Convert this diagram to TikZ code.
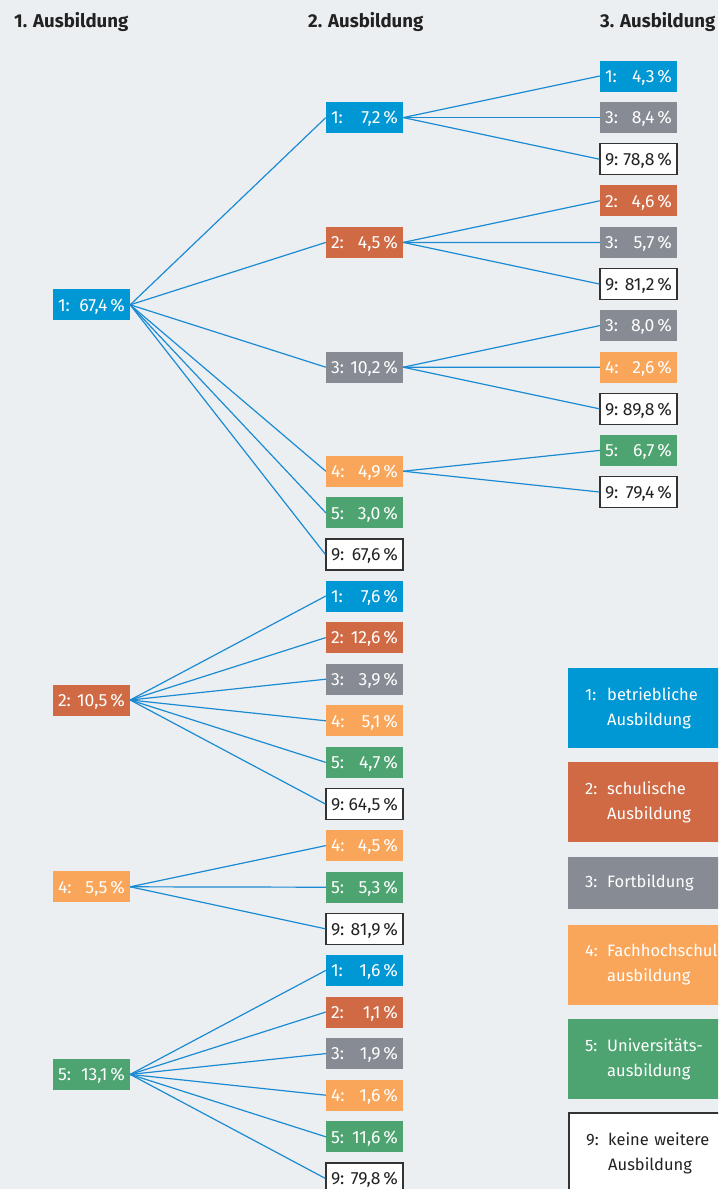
\documentclass[tikz,border=0pt]{standalone}
\usepackage{fontspec}
\setmainfont{Fira Sans}
\usepackage{tikz}
\usetikzlibrary{positioning}
\definecolor{bgc}{HTML}{ECEFF2}
\definecolor{col1}{HTML}{0098D4}
\definecolor{col2}{HTML}{D06A45}
\definecolor{col3}{HTML}{878B94}
\definecolor{col4}{HTML}{F9A65A}
\definecolor{col5}{HTML}{4EA471}
\definecolor{frame}{HTML}{333333}
\definecolor{darktext}{HTML}{222222}
\definecolor{linec}{HTML}{1A8BD3}
\newcommand{\pct}[2]{\makebox[67pt]{#1\hfill#2\,\%}}
\newcommand{\legtwo}[3]{\makebox[22pt][l]{#1}#2\\\hspace*{22pt}#3}
\tikzset{%
	cell/.style  = {rectangle, minimum width=77pt, minimum height=31pt, inner sep=0pt, text height=12.4pt, text depth=0pt, font=\fontsize{17.6}{22}\selectfont, text=white},
	c1/.style    = {cell, fill=col1},
	c2/.style    = {cell, fill=col2},
	c3/.style    = {cell, fill=col3},
	c4/.style    = {cell, fill=col4},
	c5/.style    = {cell, fill=col5},
	c9/.style    = {cell, fill=white, draw=frame, line width=1.3pt, text=darktext}, % keine weitere
	link/.style  = {draw=linec, line width=1.2pt},
	head/.style  = {font=\fontsize{18.6}{22}\selectfont\bfseries, text=darktext, anchor=base west, inner sep=0pt},
	leg/.style   = {rectangle, anchor=west, minimum height=80pt, text width=170pt, inner xsep=17pt, align=left, font=\fontsize{16.5}{25}\selectfont, text=white}, % Legende
}
\begin{document}
\begin{tikzpicture}[x=1pt,y=-1pt,node distance=41.6pt]
	\useasboundingbox (0,0) rectangle (718,1189);
	\clip (0,0) rectangle (718,1189);
	\fill[bgc] (0,0) rectangle (718,1189);
	
	\node [head] (h1) at (14,27) {1. Ausbildung};
	\node [head] (h2) at (308,27) {2. Ausbildung};
	\node [head] (h3) at (600,27) {3. Ausbildung};
	
	% 1. Ausbildung
	\node [c1] (l1) at (91.5,304.8) {\pct{1:}{67,4}};
	\node [c2] (l2) at (91.5,700) {\pct{2:}{10,5}};
	\node [c4] (l4) at (91.5,886.8) {\pct{4:}{5,5}};
	\node [c5] (l5) at (91.5,1074.4) {\pct{5:}{13,1}};
	
	% 2. Ausbildung
	\node [c1] (m11) at (364.5,117.6) {\pct{1:}{7,2}};
	\node [c2] (m12) [below of=m11,node distance=124.8pt] {\pct{2:}{4,5}};
	\node [c3] (m13) [below of=m12,node distance=124.8pt] {\pct{3:}{10,2}};
	\node [c4] (m14) [below of=m13,node distance=104pt] {\pct{4:}{4,9}};
	\node [c5] (m15) [below of=m14] {\pct{5:}{3,0}};
	\node [c9] (m19) [below of=m15] {\pct{9:}{67,6}};
	\node [c1] (m21) [below of=m19] {\pct{1:}{7,6}};
	\node [c2] (m22) [below of=m21] {\pct{2:}{12,6}};
	\node [c3] (m23) [below of=m22] {\pct{3:}{3,9}};
	\node [c4] (m24) [below of=m23] {\pct{4:}{5,1}};
	\node [c5] (m25) [below of=m24] {\pct{5:}{4,7}};
	\node [c9] (m29) [below of=m25] {\pct{9:}{64,5}};
	\node [c4] (m44) [below of=m29] {\pct{4:}{4,5}};
	\node [c5] (m45) [below of=m44] {\pct{5:}{5,3}};
	\node [c9] (m49) [below of=m45] {\pct{9:}{81,9}};
	\node [c1] (m51) [below of=m49] {\pct{1:}{1,6}};
	\node [c2] (m52) [below of=m51] {\pct{2:}{1,1}};
	\node [c3] (m53) [below of=m52] {\pct{3:}{1,9}};
	\node [c4] (m54) [below of=m53] {\pct{4:}{1,6}};
	\node [c5] (m55) [below of=m54] {\pct{5:}{11,6}};
	\node [c9] (m59) [below of=m55] {\pct{9:}{79,8}};
	
	% 3. Ausbildung
	\node [c1] (r111) at (638.5,76) {\pct{1:}{4,3}};
	\node [c3] (r113) [below of=r111] {\pct{3:}{8,4}};
	\node [c9] (r119) [below of=r113] {\pct{9:}{78,8}};
	\node [c2] (r122) [below of=r119] {\pct{2:}{4,6}};
	\node [c3] (r123) [below of=r122] {\pct{3:}{5,7}};
	\node [c9] (r129) [below of=r123] {\pct{9:}{81,2}};
	\node [c3] (r133) [below of=r129] {\pct{3:}{8,0}};
	\node [c4] (r134) [below of=r133] {\pct{4:}{2,6}};
	\node [c9] (r139) [below of=r134] {\pct{9:}{89,8}};
	\node [c5] (r145) [below of=r139] {\pct{5:}{6,7}};
	\node [c9] (r149) [below of=r145] {\pct{9:}{79,4}};
	
	\draw[link] (l1.east) -- (m11.west);
	\draw[link] (l1.east) -- (m12.west);
	\draw[link] (l1.east) -- (m13.west);
	\draw[link] (l1.east) -- (m14.west);
	\draw[link] (l1.east) -- (m15.west);
	\draw[link] (l1.east) -- (m19.west);
	\draw[link] (l2.east) -- (m21.west);
	\draw[link] (l2.east) -- (m22.west);
	\draw[link] (l2.east) -- (m23.west);
	\draw[link] (l2.east) -- (m24.west);
	\draw[link] (l2.east) -- (m25.west);
	\draw[link] (l2.east) -- (m29.west);
	\draw[link] (l4.east) -- (m44.west);
	\draw[link] (l4.east) -- (m45.west);
	\draw[link] (l4.east) -- (m49.west);
	\draw[link] (l5.east) -- (m51.west);
	\draw[link] (l5.east) -- (m52.west);
	\draw[link] (l5.east) -- (m53.west);
	\draw[link] (l5.east) -- (m54.west);
	\draw[link] (l5.east) -- (m55.west);
	\draw[link] (l5.east) -- (m59.west);
	\draw[link] (m11.east) -- (r111.west);
	\draw[link] (m11.east) -- (r113.west);
	\draw[link] (m11.east) -- (r119.west);
	\draw[link] (m12.east) -- (r122.west);
	\draw[link] (m12.east) -- (r123.west);
	\draw[link] (m12.east) -- (r129.west);
	\draw[link] (m13.east) -- (r133.west);
	\draw[link] (m13.east) -- (r134.west);
	\draw[link] (m13.east) -- (r139.west);
	\draw[link] (m14.east) -- (r145.west);
	\draw[link] (m14.east) -- (r149.west);
	
	% Legende
	\node [leg,fill=col1] (k1) at (568,708) {\legtwo{1:}{betriebliche}{Ausbildung}};
	\node [leg,fill=col2] (k2) at (568,802) {\legtwo{2:}{schulische}{Ausbildung}};
	\node [leg,fill=col3,minimum height=52pt] (k3) at (568,883) {\makebox[22pt][l]{3:}Fortbildung};
	\node [leg,fill=col4] (k4) at (568,965) {\legtwo{4:}{Fachhochschul-}{ausbildung}};
	\node [leg,fill=col5] (k5) at (568,1059) {\legtwo{5:}{Universitäts-}{ausbildung}};
	\node [leg,fill=white,draw=frame,line width=2.4pt,text=darktext] (k9) at (568,1153) {\legtwo{9:}{keine weitere}{Ausbildung}};
\end{tikzpicture}
\end{document}
